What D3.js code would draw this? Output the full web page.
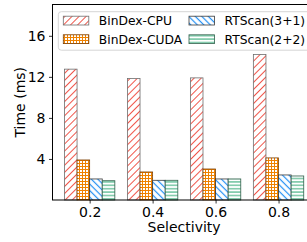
<!DOCTYPE html>
<html>
<head>
<meta charset="utf-8">
<script src="https://cdn.jsdelivr.net/npm/d3@7"></script>
<style>
  body { margin: 0; background: #fff; }
  text { font-family: "DejaVu Sans", sans-serif; fill: #000; }
</style>
</head>
<body>
<div id="chart"></div>
<script>
const categories = ["0.2", "0.4", "0.6", "0.8"];
const seriesNames = ["BinDex-CPU", "BinDex-CUDA", "RTScan(3+1)", "RTScan(2+2)"];
const cpuValues = [12.75, 11.83, 11.9, 14.18];
const cudaValues = [3.9, 2.73, 3.02, 4.1];
const rt31Values = [2.05, 1.92, 2.05, 2.44];
const rt22Values = [1.88, 1.92, 2.05, 2.34];
const yTicks = [4, 8, 12, 16];

const width = 307, height = 242;
const seriesValues = [cpuValues, cudaValues, rt31Values, rt22Values];

const svg = d3.select("#chart").append("svg")
  .attr("width", width).attr("height", height);

// hatch patterns
const defs = svg.append("defs");
const hatches = [
  { id: "hatchCpu", color: "#f0554a", kind: "diag", angle: 45, size: 5, w: 1 },
  { id: "hatchCuda", color: "#ef8200", kind: "grid", angle: 0, size: 3, w: 1 },
  { id: "hatchRt31", color: "#1f8ef5", kind: "diag", angle: -45, size: 4.6, w: 1.2 },
  { id: "hatchRt22", color: "#2fa874", kind: "horiz", angle: 0, size: 3.4, w: 1 }
];
hatches.forEach(h => {
  const s = h.size;
  const p = defs.append("pattern")
    .attr("id", h.id)
    .attr("patternUnits", "userSpaceOnUse")
    .attr("width", s).attr("height", s)
    .attr("patternTransform", `rotate(${h.angle})`);
  p.append("rect").attr("width", s).attr("height", s).attr("fill", "#fff");
  const line = (x1, y1, x2, y2) => p.append("line")
    .attr("x1", x1).attr("y1", y1).attr("x2", x2).attr("y2", y2)
    .attr("stroke", h.color).attr("stroke-width", h.w);
  if (h.kind === "diag") {
    line(s / 2, 0, s / 2, s);
  } else if (h.kind === "grid") {
    line(0, s / 2, s, s / 2); line(s / 2, 0, s / 2, s);
  } else {
    line(0, s / 2, s, s / 2);
  }
});
const outline = ["#6e6e6e", "#7a3d00", "#3a3a3a", "#2f5f4a"];

// scales
const x = d3.scaleLinear().domain([-0.59, 3.59]).range([52.5, 315.7]);
const inner = d3.scaleBand().domain(d3.range(seriesNames.length)).range([-0.4, 0.4]);
const y = d3.scaleLinear().domain([0, 19.05]).range([200, 4.5]);

// bars
seriesValues.forEach((vals, si) => {
  svg.append("g").selectAll("rect")
    .data(vals)
    .join("rect")
    .attr("x", (d, i) => x(i + inner(si)))
    .attr("width", x(inner.bandwidth()) - x(0))
    .attr("y", d => y(d))
    .attr("height", d => y(0) - y(d))
    .attr("fill", `url(#${hatches[si].id})`)
    .attr("stroke", outline[si])
    .attr("stroke-width", 0.8);
});

// axes
const xAxis = svg.append("g")
  .attr("transform", `translate(0,${y(0)})`)
  .call(d3.axisBottom(x).tickValues(d3.range(categories.length))
    .tickFormat(i => categories[i]).tickSize(3.5).tickPadding(3.5));
const yAxis = svg.append("g")
  .attr("transform", `translate(${x.range()[0]},0)`)
  .call(d3.axisLeft(y).tickValues(yTicks).tickSize(3.5).tickPadding(3.5));
[xAxis, yAxis].forEach(a => {
  a.select(".domain").remove();
  a.selectAll("line").attr("stroke", "#000").attr("stroke-width", 0.8);
  a.selectAll("text").attr("font-size", 14).attr("font-family", "DejaVu Sans, sans-serif");
});

// frame
svg.append("rect")
  .attr("x", x.range()[0]).attr("y", y.range()[1])
  .attr("width", x.range()[1] - x.range()[0])
  .attr("height", y.range()[0] - y.range()[1])
  .attr("fill", "none").attr("stroke", "#000").attr("stroke-width", 1);

// axis titles
svg.append("text")
  .attr("x", (x.range()[0] + x.range()[1]) / 2).attr("y", 231.5)
  .attr("text-anchor", "middle").attr("font-size", 14)
  .text("Selectivity");
svg.append("text")
  .attr("transform", `translate(24.5,${(y.range()[0] + y.range()[1]) / 2}) rotate(-90)`)
  .attr("text-anchor", "middle").attr("font-size", 14)
  .text("Time (ms)");

// legend
const legend = svg.append("g");
legend.append("rect")
  .attr("x", 58.3).attr("y", 11.7).attr("width", 260).attr("height", 38.5)
  .attr("rx", 3)
  .attr("fill", "#fff").attr("fill-opacity", 0.8)
  .attr("stroke", "#d6d6d6").attr("stroke-width", 1);
const colX = [63.3, 189];
const rowY = [16.2, 34.8];
seriesNames.forEach((name, si) => {
  const cx = colX[Math.floor(si / 2)];
  const cy = rowY[si % 2];
  legend.append("rect")
    .attr("x", cx).attr("y", cy).attr("width", 25.5).attr("height", 8.8)
    .attr("fill", `url(#${hatches[si].id})`)
    .attr("stroke", outline[si]).attr("stroke-width", 0.8);
  legend.append("text")
    .attr("x", cx + 35.5).attr("y", cy + 8.9)
    .attr("font-size", 12.3)
    .text(name);
});
</script>
</body>
</html>
